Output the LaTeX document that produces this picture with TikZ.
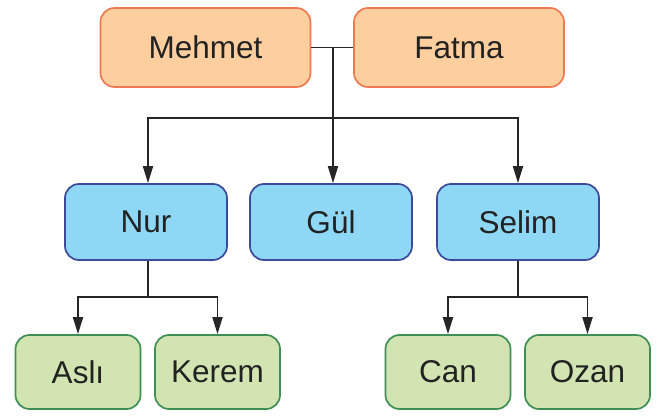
\documentclass[tikz,border=0pt]{standalone}
\usepackage{fontspec}
\setmainfont{Liberation Sans}
\usetikzlibrary{arrows.meta}
\definecolor{ofill}{HTML}{FDCF9E}
\definecolor{oline}{HTML}{EF7A52}
\definecolor{bfill}{HTML}{8ED7F5}
\definecolor{bline}{HTML}{3C4A9C}
\definecolor{gfill}{HTML}{D2E4B1}
\definecolor{gline}{HTML}{3F8F55}
\definecolor{txt}{HTML}{222222}
\tikzset{
  person/.style={rounded corners=14pt, line width=1.7pt, inner sep=0pt, text=txt,
    font=\fontsize{31.5}{34}\selectfont},
  parentbox/.style={person, draw=oline, fill=ofill, minimum width=210pt, minimum height=79pt},
  childbox/.style={person, draw=bline, fill=bfill, minimum width=162pt, minimum height=76pt},
  grandbox/.style={person, draw=gline, fill=gfill, minimum width=125pt, minimum height=74pt},
  link/.style={line width=1.8pt, draw=black!85},
  arrowlink/.style={link, -{Triangle[width=10pt,length=17pt]}},
}
\begin{document}
\begin{tikzpicture}[x=1pt,y=-1pt]
\useasboundingbox (0,0) rectangle (664,419);
\node[parentbox] (mehmet) at (205.5,47.5) {Mehmet};
\node[parentbox] (fatma) at (459,47.5) {Fatma};
\node[childbox] (nur) at (146,222) {Nur};
\node[childbox] (gul) at (331,222) {Gül};
\node[childbox] (selim) at (518,222) {Selim};
\node[grandbox] (asli) at (78,372) {Aslı};
\node[grandbox] (kerem) at (217.5,372) {Kerem};
\node[grandbox] (can) at (448,372) {Can};
\node[grandbox] (ozan) at (587.5,372) {Ozan};
\coordinate (m1) at (333,47.5);
\coordinate (m2) at (333,118);
\coordinate (n1) at (148,297);
\coordinate (s1) at (518,297);
\draw[link] (mehmet.east) -- (fatma.west);
\draw[link] (m1) -- (m2);
\draw[arrowlink] (m2) -| (nur.north -| n1);
\draw[arrowlink] (m2) -- (gul.north -| m2);
\draw[arrowlink] (m2) -| (selim.north);
\draw[link] (nur.south -| n1) -- (n1);
\draw[arrowlink] (n1) -| (asli.north);
\draw[arrowlink] (n1) -| (kerem.north);
\draw[link] (selim.south) -- (s1);
\draw[arrowlink] (s1) -| (can.north);
\draw[arrowlink] (s1) -| (ozan.north);
\end{tikzpicture}
\end{document}
